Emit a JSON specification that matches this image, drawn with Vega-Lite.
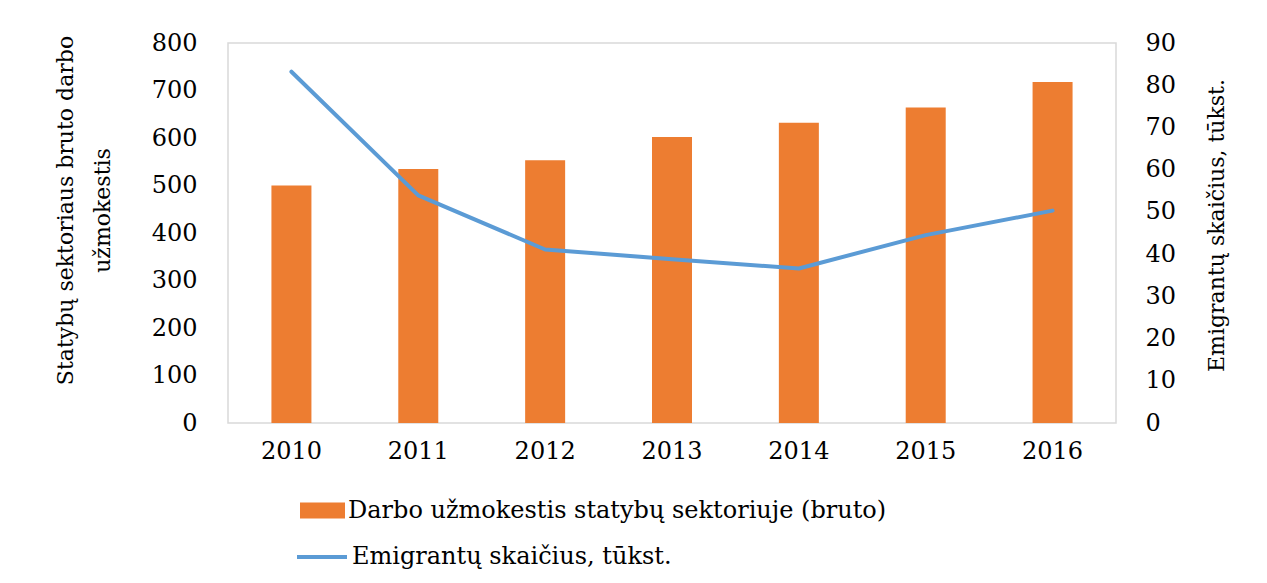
{
  "$schema": "https://vega.github.io/schema/vega-lite/v6.json",
  "width": 888,
  "height": 380,
  "autosize": {"type": "none"},
  "padding": {"left": 228, "top": 43, "right": 151, "bottom": 160},
  "background": "white",
  "config": {
    "view": {"stroke": "#d9d9d9", "strokeWidth": 1.5},
    "font": "DejaVu Serif",
    "axis": {
      "grid": false, "ticks": false, "tickSize": 0, "domain": false,
      "labelFont": "DejaVu Serif", "labelFontSize": 24, "labelColor": "#000000",
      "titleFont": "DejaVu Serif", "titleFontSize": 22, "titleFontWeight": "normal", "titleColor": "#000000"
    },
    "legend": {"labelFont": "DejaVu Serif", "labelFontSize": 24, "labelColor": "#000000", "labelLimit": 0}
  },
  "data": {
    "values": [
      {"year": "2010", "wage": 500, "emigrants": 83.2},
      {"year": "2011", "wage": 535, "emigrants": 53.9},
      {"year": "2012", "wage": 553, "emigrants": 41.1},
      {"year": "2013", "wage": 602, "emigrants": 38.8},
      {"year": "2014", "wage": 632, "emigrants": 36.6},
      {"year": "2015", "wage": 664, "emigrants": 44.5},
      {"year": "2016", "wage": 718, "emigrants": 50.3}
    ]
  },
  "encoding": {
    "x": {
      "field": "year", "type": "ordinal",
      "scale": {"paddingInner": 0, "paddingOuter": 0},
      "axis": {"title": null, "labelAngle": 0, "labelPadding": 16}
    }
  },
  "layer": [
    {
      "mark": {"type": "bar", "size": 40},
      "encoding": {
        "y": {
          "field": "wage", "type": "quantitative",
          "scale": {"domain": [0, 800]},
          "axis": {
            "orient": "left", "values": [0, 100, 200, 300, 400, 500, 600, 700, 800],
            "labelPadding": 31,
            "title": ["Statybų sektoriaus bruto darbo", "užmokestis"],
            "titleX": -151, "titleY": 167, "titleLineHeight": 37,
            "titleAngle": -90, "titleBaseline": "bottom", "titleAlign": "center"
          }
        },
        "fill": {
          "datum": "Darbo užmokestis statybų sektoriuje (bruto)",
          "scale": {"range": ["#ED7D31"]},
          "legend": {
            "title": null, "orient": "none", "legendX": 72, "legendY": 445,
            "symbolType": "M-1,-0.36L1,-0.36L1,0.36L-1,0.36Z", "symbolSize": 2025,
            "symbolStrokeWidth": 0, "labelOffset": 3
          }
        }
      }
    },
    {
      "mark": {"type": "line", "strokeWidth": 4, "strokeCap": "round", "strokeJoin": "round"},
      "encoding": {
        "y": {
          "field": "emigrants", "type": "quantitative",
          "scale": {"domain": [0, 90]},
          "axis": {
            "orient": "right", "values": [0, 10, 20, 30, 40, 50, 60, 70, 80, 90],
            "labelPadding": 29,
            "title": "Emigrantų skaičius, tūkst.",
            "titleX": 100, "titleY": 182, "titleAngle": 270,
            "titleBaseline": "middle", "titleAlign": "center"
          }
        },
        "stroke": {
          "datum": "Emigrantų skaičius, tūkst.",
          "scale": {"range": ["#5B9BD5"]},
          "legend": {
            "title": null, "orient": "none", "legendX": 67, "legendY": 487,
            "symbolType": "stroke", "symbolSize": 2500, "symbolStrokeWidth": 4,
            "labelOffset": 3
          }
        }
      }
    }
  ],
  "resolve": {"scale": {"y": "independent"}}
}
